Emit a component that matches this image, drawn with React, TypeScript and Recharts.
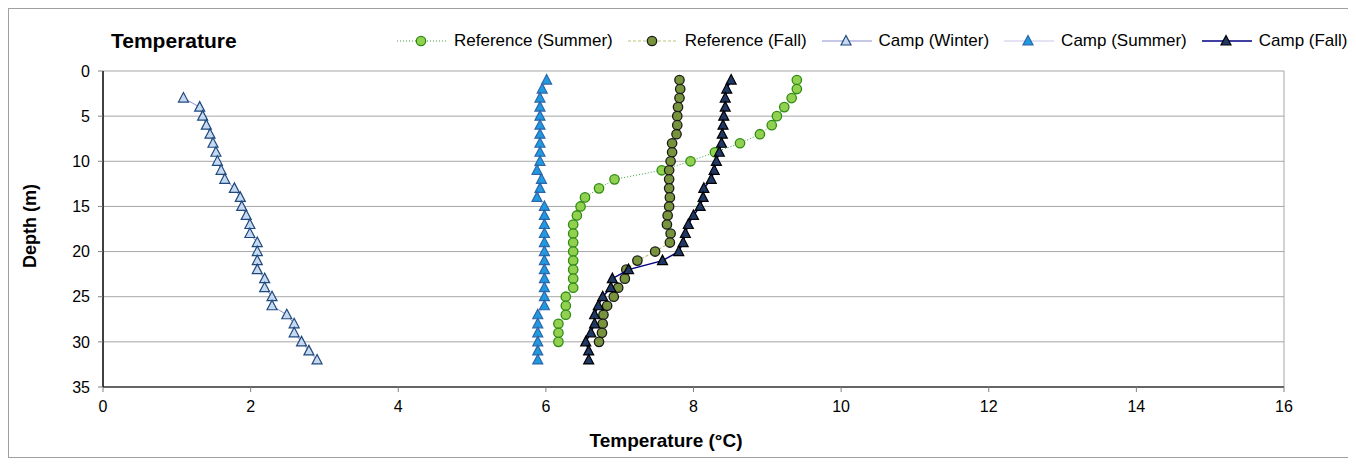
import { ScatterChart, Scatter, XAxis, YAxis, CartesianGrid, ReferenceLine } from 'recharts'

// depths (m)
const refDepths = [1, 2, 3, 4, 5, 6, 7, 8, 9, 10, 11, 12, 13, 14, 15, 16, 17, 18, 19, 20, 21, 22, 23, 24, 25, 26, 27, 28, 29, 30]
const campDepths = [1, 2, 3, 4, 5, 6, 7, 8, 9, 10, 11, 12, 13, 14, 15, 16, 17, 18, 19, 20, 21, 22, 23, 24, 25, 26, 27, 28, 29, 30, 31, 32]
const winterDepths = [3, 4, 5, 6, 7, 8, 9, 10, 11, 12, 13, 14, 15, 16, 17, 18, 19, 20, 21, 22, 23, 24, 25, 26, 27, 28, 29, 30, 31, 32]

// temperatures (°C)
const refSummerTemp = [9.40, 9.40, 9.33, 9.23, 9.13, 9.06, 8.90, 8.63, 8.29, 7.96, 7.57, 6.93, 6.72, 6.53, 6.47, 6.42, 6.37, 6.37, 6.37, 6.37, 6.37, 6.37, 6.37, 6.37, 6.27, 6.27, 6.27, 6.17, 6.17, 6.17]
const refFallTemp = [7.81, 7.82, 7.81, 7.79, 7.78, 7.78, 7.77, 7.71, 7.71, 7.69, 7.67, 7.67, 7.67, 7.68, 7.67, 7.65, 7.64, 7.69, 7.68, 7.48, 7.24, 7.09, 7.07, 6.98, 6.92, 6.83, 6.78, 6.77, 6.76, 6.72]
const campWinterTemp = [1.09, 1.31, 1.35, 1.40, 1.45, 1.49, 1.53, 1.55, 1.60, 1.65, 1.78, 1.86, 1.88, 1.94, 1.99, 1.99, 2.09, 2.09, 2.09, 2.09, 2.19, 2.19, 2.29, 2.29, 2.49, 2.59, 2.59, 2.69, 2.79, 2.90]
const campSummerTemp = [6.01, 5.95, 5.92, 5.92, 5.92, 5.92, 5.92, 5.92, 5.92, 5.92, 5.88, 5.94, 5.92, 5.88, 5.98, 5.98, 5.98, 5.98, 5.98, 5.98, 5.98, 5.98, 5.98, 5.98, 5.98, 5.98, 5.89, 5.89, 5.89, 5.89, 5.89, 5.89]
const campFallTemp = [8.51, 8.45, 8.43, 8.43, 8.41, 8.40, 8.39, 8.38, 8.35, 8.31, 8.28, 8.24, 8.14, 8.13, 8.09, 8.00, 7.93, 7.89, 7.86, 7.80, 7.58, 7.12, 6.90, 6.88, 6.77, 6.71, 6.66, 6.66, 6.61, 6.54, 6.58, 6.58]

const xTicks = [0, 2, 4, 6, 8, 10, 12, 14, 16]
const yTicks = [0, 5, 10, 15, 20, 25, 30, 35]

const toPoints = (depths: number[], temps: number[]) => depths.map((d, i) => ({ t: temps[i], d }))

const FONT = '"Liberation Sans", Arial, sans-serif'

type MarkProps = { cx?: number; cy?: number; fill: string; stroke: string }

const CircleMark = ({ cx = 0, cy = 0, fill, stroke }: MarkProps) => (
  <circle cx={cx} cy={cy} r={4.7} fill={fill} stroke={stroke} strokeWidth={1.3} />
)

const TriMark = ({ cx = 0, cy = 0, fill, stroke }: MarkProps) => (
  <polygon
    points={`${cx},${cy - 5.5} ${cx - 5},${cy + 4} ${cx + 5},${cy + 4}`}
    fill={fill}
    stroke={stroke}
    strokeWidth={1.2}
    strokeLinejoin="miter"
  />
)

const series = [
  {
    name: 'Reference (Summer)',
    data: toPoints(refDepths, refSummerTemp),
    mark: 'circle',
    fill: '#92D050',
    stroke: '#2E8B12',
    line: { stroke: '#3C9A3C', strokeWidth: 1, strokeDasharray: '1 2' },
  },
  {
    name: 'Reference (Fall)',
    data: toPoints(refDepths, refFallTemp),
    mark: 'circle',
    fill: '#77933C',
    stroke: '#1A1A1A',
    line: { stroke: '#B5C77A', strokeWidth: 1.2, strokeDasharray: '3 2' },
  },
  {
    name: 'Camp (Winter)',
    data: toPoints(winterDepths, campWinterTemp),
    mark: 'tri',
    fill: '#C6D9F1',
    stroke: '#1F497D',
    line: { stroke: '#7070C0', strokeWidth: 0.8 },
  },
  {
    name: 'Camp (Summer)',
    data: toPoints(campDepths, campSummerTemp),
    mark: 'tri',
    fill: '#1E9BE0',
    stroke: '#2F65A8',
    line: { stroke: '#B8B8E0', strokeWidth: 0.8 },
  },
  {
    name: 'Camp (Fall)',
    data: toPoints(campDepths, campFallTemp),
    mark: 'tri',
    fill: '#1F3864',
    stroke: '#000000',
    line: { stroke: '#000080', strokeWidth: 1.5 },
  },
]

function LegendBar() {
  return (
    <div
      style={{
        position: 'absolute',
        left: 388,
        top: 22,
        height: 20,
        display: 'flex',
        alignItems: 'center',
        gap: 15,
        fontFamily: FONT,
        fontSize: 17,
        whiteSpace: 'nowrap',
      }}
    >
      {series.map((s) => (
        <div key={s.name} style={{ display: 'flex', alignItems: 'center', gap: 7 }}>
          <svg width={50} height={14}>
            <line x1={0} y1={7} x2={50} y2={7} {...s.line} />
            {s.mark === 'circle' ? (
              <CircleMark cx={24} cy={7} fill={s.fill} stroke={s.stroke} />
            ) : (
              <TriMark cx={24} cy={7} fill={s.fill} stroke={s.stroke} />
            )}
          </svg>
          <span>{s.name}</span>
        </div>
      ))}
    </div>
  )
}

export default function App() {
  return (
    <div
      style={{
        position: 'relative',
        width: 1340,
        height: 448,
        border: '1px solid #A0A0A0',
        background: '#fff',
        fontFamily: FONT,
      }}
    >
      <div style={{ position: 'absolute', left: 102, top: 21, fontSize: 21, fontWeight: 'bold', lineHeight: '21px' }}>
        Temperature
      </div>
      <LegendBar />
      <div
        style={{
          position: 'absolute',
          left: 21,
          top: 217,
          transform: 'translate(-50%, -50%) rotate(-90deg)',
          fontSize: 18,
          fontWeight: 'bold',
          whiteSpace: 'nowrap',
        }}
      >
        Depth (m)
      </div>
      <div
        style={{
          position: 'absolute',
          left: 657,
          top: 432,
          transform: 'translate(-50%, -50%)',
          fontSize: 19,
          fontWeight: 'bold',
          whiteSpace: 'nowrap',
        }}
      >
        Temperature (°C)
      </div>
      <ScatterChart width={1340} height={448} margin={{ top: 62, right: 65, bottom: 40, left: 34 }}>
        <CartesianGrid horizontal vertical={false} stroke="#A6A6A6" strokeWidth={1} />
        <XAxis
          type="number"
          dataKey="t"
          domain={[0, 16]}
          ticks={xTicks}
          interval={0}
          allowDataOverflow
          height={30}
          axisLine={{ stroke: '#404040', strokeWidth: 1.5 }}
          tickLine={{ stroke: '#808080' }}
          tickSize={5}
          tickMargin={9}
          tick={{ fill: '#000', fontSize: 16, fontFamily: FONT }}
        />
        <YAxis
          type="number"
          dataKey="d"
          reversed
          domain={[0, 35]}
          ticks={yTicks}
          interval={0}
          allowDataOverflow
          width={60}
          axisLine={{ stroke: '#000', strokeWidth: 1.5 }}
          tickLine={{ stroke: '#808080' }}
          tickSize={5}
          tickMargin={8}
          tick={{ fill: '#000', fontSize: 16, fontFamily: FONT }}
        />
        <ReferenceLine x={16} stroke="#A6A6A6" />
        {series.map((s) => (
          <Scatter
            key={s.name}
            name={s.name}
            data={s.data}
            line={s.line}
            lineType="joint"
            isAnimationActive={false}
            shape={(p: any) =>
              s.mark === 'circle' ? (
                <CircleMark cx={p.cx} cy={p.cy} fill={s.fill} stroke={s.stroke} />
              ) : (
                <TriMark cx={p.cx} cy={p.cy} fill={s.fill} stroke={s.stroke} />
              )
            }
          />
        ))}
      </ScatterChart>
    </div>
  )
}
